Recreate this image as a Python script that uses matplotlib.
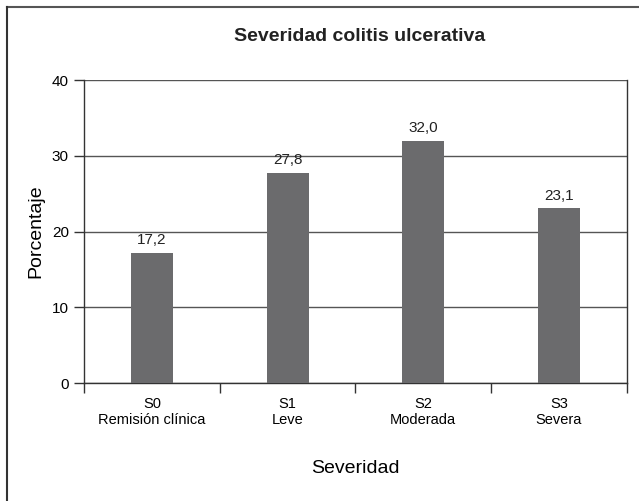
import matplotlib.pyplot as plt
import numpy as np
from matplotlib.lines import Line2D

plt.rcParams['font.family'] = ['Liberation Sans Narrow', 'Liberation Sans', 'DejaVu Sans']

codigos = ['S0', 'S1', 'S2', 'S3']
nombres = ['Remisión clínica', 'Leve', 'Moderada', 'Severa']
valores = [17.2, 27.8, 32.0, 23.1]
etiquetas = ['17,2', '27,8', '32,0', '23,1']

fig = plt.figure(figsize=(6.39, 5.01), dpi=100)
ax = fig.add_axes([0.1315, 0.2355, 0.8495, 0.6045])

x = np.arange(len(valores))
ax.bar(x, valores, width=0.31, color='#6b6b6d', zorder=3)
for xi, v, t in zip(x, valores, etiquetas):
    ax.annotate(t, (xi, v), xytext=(0, 4), textcoords='offset points',
                ha='center', va='bottom', fontsize=11, color='#222222')

ax.set_xlim(-0.5, 3.5)
ax.set_ylim(0, 40)
ax.set_yticks([0, 10, 20, 30, 40])
ax.yaxis.grid(True, color='#555555', linewidth=1.0, zorder=0)
ax.set_xticks([-0.5, 0.5, 1.5, 2.5, 3.5])
ax.set_xticklabels([])
ax.set_xticks(x, minor=True)
ax.set_xticklabels([c + '\n' + n for c, n in zip(codigos, nombres)], minor=True,
                   fontsize=10.5, linespacing=1.15)
ax.tick_params(axis='x', which='major', length=7, width=1, color='#333333')
ax.tick_params(axis='x', which='minor', length=0, pad=10)
ax.tick_params(axis='y', length=7, width=1, color='#333333', labelsize=11, pad=4)

ax.spines['top'].set_visible(False)
for s in ['left', 'bottom', 'right']:
    ax.spines[s].set_color('#333333')
    ax.spines[s].set_linewidth(1.0)

ax.set_ylabel('Porcentaje', fontsize=14, labelpad=5)
ax.set_xlabel('Severidad', fontsize=14, labelpad=24)
fig.text(0.563, 0.927, 'Severidad colitis ulcerativa', ha='center', va='center',
         fontsize=14, fontweight='bold', color='#222222')

# marco exterior
fig.add_artist(Line2D([7/639, 1.0], [1 - 7/501, 1 - 7/501], transform=fig.transFigure,
                      color='#555555', linewidth=1.5))
fig.add_artist(Line2D([7/639, 7/639], [0.0, 1 - 7/501], transform=fig.transFigure,
                      color='#333333', linewidth=1.5))

fig.savefig('out.png', dpi=100)
